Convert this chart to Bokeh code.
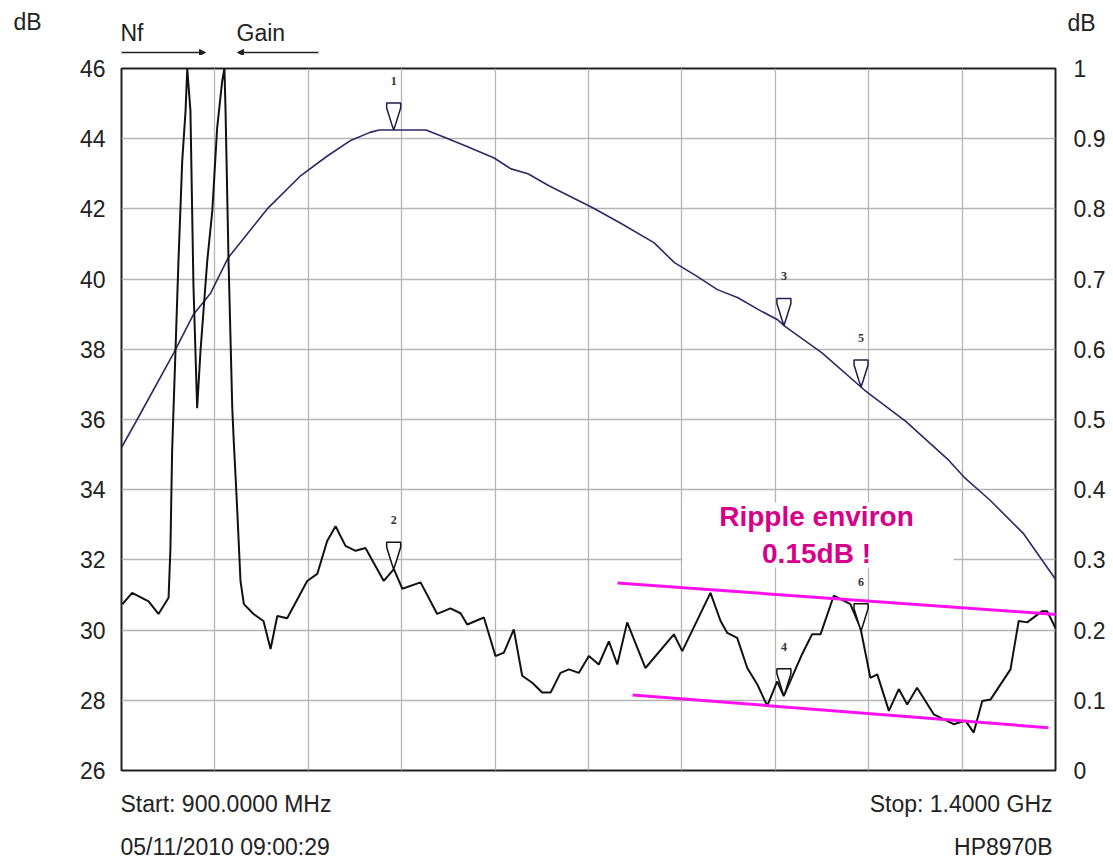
import numpy as np
from bokeh.plotting import figure
from bokeh.layouts import column
from bokeh.models import Range1d, LinearAxis, FixedTicker, Label, Arrow, NormalHead, BoxAnnotation
from bokeh.embed import file_html
from bokeh.resources import INLINE
from bokeh.core.properties import value

# ---------------- data ----------------
freq_start_mhz = 900
freq_stop_mhz = 1400
freq_grid_mhz = [950, 1000, 1050, 1100, 1150, 1200, 1250, 1300, 1350]

gain_ticks = [26, 28, 30, 32, 34, 36, 38, 40, 42, 44, 46]
gain_tick_labels = ["26", "28", "30", "32", "34", "36", "38", "40", "42", "44", "46"]
nf_ticks = [0, 0.1, 0.2, 0.3, 0.4, 0.5, 0.6, 0.7, 0.8, 0.9, 1]
nf_tick_labels = ["0", "0.1", "0.2", "0.3", "0.4", "0.5", "0.6", "0.7", "0.8", "0.9", "1"]

# Gain trace (left axis, dB)
gain_freq = [900.0, 908.4, 928.0, 938.6, 947.7, 957.0, 978.0, 996.0, 1010.0, 1022.7,
             1033.0, 1038.0, 1063.0, 1072.5, 1084.0, 1099.5, 1108.5, 1117.6, 1128.8,
             1152.0, 1167.0, 1185.0, 1196.0, 1207.7, 1219.0, 1230.0, 1241.0, 1251.0,
             1255.0, 1275.0, 1297.7, 1320.0, 1342.8, 1351.0, 1365.0, 1383.0, 1400.0]
gain_db = [35.2, 36.0, 37.9, 39.0, 39.6, 40.6, 42.0, 42.95, 43.5, 43.95,
           44.18, 44.25, 44.25, 44.05, 43.8, 43.45, 43.14, 43.0, 42.66,
           42.04, 41.6, 41.04, 40.47, 40.09, 39.7, 39.47, 39.13, 38.85,
           38.66, 37.9, 36.84, 35.94, 34.84, 34.36, 33.7, 32.74, 31.45]

# Noise-figure trace (right axis, dB)
nf_freq = [900.5, 905.7, 914.5, 919.8, 925.2, 926.2, 927.1, 928.9, 930.5, 932.5,
           934.3, 935.2, 936.9, 938.5, 940.5, 942.3, 945.9, 948.6, 951.2, 953.9,
           955.1, 955.7, 957.3, 959.3, 960.1, 961.0, 961.9, 963.7, 965.5, 970.7,
           976.0, 979.8, 983.4, 988.7, 999.4, 1004.8, 1010.1, 1014.6, 1019.9, 1025.3,
           1030.6, 1040.4, 1045.8, 1050.3, 1060.1, 1069.0, 1076.1, 1081.5, 1085.1, 1094.0,
           1100.2, 1104.7, 1110.0, 1114.5, 1119.9, 1125.2, 1129.7, 1135.0, 1139.5, 1144.8,
           1150.2, 1155.5, 1160.9, 1165.4, 1170.7, 1180.5, 1195.7, 1200.2, 1215.3, 1220.7,
           1224.3, 1229.6, 1235.0, 1240.3, 1245.7, 1251.0, 1254.5, 1264.4, 1269.7, 1274.2,
           1281.3, 1290.2, 1295.6, 1300.9, 1304.6, 1310.8, 1316.1, 1320.6, 1325.9, 1334.8,
           1345.5, 1351.8, 1356.2, 1360.8, 1365.2, 1375.9, 1380.3, 1384.8, 1392.9, 1395.5,
           1400.0]
nf_db = [0.237, 0.253, 0.241, 0.223, 0.246, 0.317, 0.455, 0.598, 0.726, 0.868,
         0.940, 1.000, 0.940, 0.693, 0.516, 0.598, 0.726, 0.797, 0.915, 0.982,
         1.000, 0.940, 0.726, 0.516, 0.469, 0.422, 0.374, 0.270, 0.237, 0.223,
         0.213, 0.173, 0.220, 0.217, 0.270, 0.280, 0.327, 0.348, 0.320, 0.313,
         0.317, 0.270, 0.287, 0.259, 0.268, 0.223, 0.231, 0.224, 0.208, 0.218,
         0.163, 0.168, 0.201, 0.135, 0.125, 0.111, 0.111, 0.139, 0.144, 0.139,
         0.163, 0.151, 0.184, 0.151, 0.211, 0.146, 0.194, 0.170, 0.253, 0.213,
         0.196, 0.189, 0.146, 0.123, 0.092, 0.127, 0.106, 0.166, 0.194, 0.194,
         0.249, 0.237, 0.203, 0.132, 0.137, 0.085, 0.116, 0.094, 0.118, 0.080,
         0.066, 0.071, 0.054, 0.099, 0.101, 0.144, 0.213, 0.211, 0.227, 0.227,
         0.203]

# Markers
marker_freq = [1045.7, 1254.6, 1295.9]
gain_marker_ids = ["1", "3", "5"]
nf_marker_ids = ["2", "4", "6"]

# Ripple envelope lines (NF dB)
ripple_upper_freq = [1165.5, 1404.3]
ripple_upper_nf = [0.267, 0.2215]
ripple_lower_freq = [1173.6, 1396.2]
ripple_lower_nf = [0.1075, 0.061]

# Header / footer texts
header_left_unit = "dB"
header_right_unit = "dB"
header_nf = "Nf"
header_gain = "Gain"
footer_start = "Start: 900.0000 MHz"
footer_stop = "Stop: 1.4000 GHz"
footer_date = "05/11/2010 09:00:29"
footer_model = "HP8970B"

# ---------------- layout (page pixel positions) ----------------
W = 1113
HDR_H, FTR_H = 55, 75
BL, BT, BB = 121, 13, 13
FW, FH = 934, 702
BR = W - BL - FW
MAIN_H = BT + FH + BB
PAGE_L, PAGE_T = BL, HDR_H + BT
G0, G1 = 26, 46
FONT = "Liberation Sans"
TXT = "#222222"


def fx(page_x):
    return freq_start_mhz + (page_x - PAGE_L) * (freq_stop_mhz - freq_start_mhz) / FW


def gy(page_y):
    return G1 - (page_y - PAGE_T) * (G1 - G0) / FH


def blank(height):
    f = figure(width=W, height=height, output_backend="svg", toolbar_location=None,
               x_range=Range1d(0, W), y_range=Range1d(height, 0),
               x_axis_location=None, y_axis_location=None, min_border=0)
    f.frame_align = False
    f.grid.visible = False
    f.outline_line_color = None
    f.background_fill_color = "white"
    f.border_fill_color = "white"
    return f


def txt(f, x, y, text, align="left", size="23px"):
    f.text([x], [y], text=[text], text_align=align, text_baseline="middle",
           text_font=value(FONT), text_font_size=size, text_color=TXT)


# ---- header (page y 0..55) ----
hdr = blank(HDR_H)
txt(hdr, 13, 21, header_left_unit)
txt(hdr, 1067, 22, header_right_unit)
txt(hdr, 120, 32, header_nf)
txt(hdr, 236, 32, header_gain)
hdr.add_layout(Arrow(end=NormalHead(size=6, fill_color="#222222", line_color="#222222"),
                     x_start=121, y_start=52, x_end=205, y_end=52,
                     line_color="#222222", line_width=1.4))
hdr.add_layout(Arrow(end=NormalHead(size=6, fill_color="#222222", line_color="#222222"),
                     x_start=318, y_start=52, x_end=237, y_end=52,
                     line_color="#222222", line_width=1.4))

# ---- main plot ----
p = figure(width=W, height=MAIN_H, output_backend="svg", toolbar_location=None,
           x_range=Range1d(freq_start_mhz, freq_stop_mhz), y_range=Range1d(G0, G1),
           min_border_left=BL, min_border_right=BR, min_border_top=BT, min_border_bottom=BB)
p.frame_align = False
p.extra_y_ranges = {"nf": Range1d(0, 1)}
p.background_fill_color = "white"
p.border_fill_color = "white"
p.outline_line_color = "#222222"
p.outline_line_width = 2

p.xaxis.visible = False
p.xaxis.ticker = FixedTicker(ticks=freq_grid_mhz)
p.xgrid.ticker = FixedTicker(ticks=freq_grid_mhz)
p.ygrid.ticker = FixedTicker(ticks=gain_ticks)
for g in (p.xgrid, p.ygrid):
    g.grid_line_color = "#b4b4b4"
    g.grid_line_width = 1.3

ya = p.yaxis[0]
ya.ticker = FixedTicker(ticks=gain_ticks)
ya.major_label_overrides = {t: l for t, l in zip(gain_ticks, gain_tick_labels)}
ya.major_label_standoff = 16

ra = LinearAxis(y_range_name="nf", ticker=FixedTicker(ticks=nf_ticks))
ra.major_label_overrides = {t: l for t, l in zip(nf_ticks, nf_tick_labels)}
ra.major_label_standoff = 18
p.add_layout(ra, "right")

for ax in (ya, ra):
    ax.axis_line_color = None
    ax.major_tick_line_color = None
    ax.minor_tick_line_color = None
    ax.major_tick_out = 0
    ax.major_tick_in = 0
    ax.major_label_text_font = FONT
    ax.major_label_text_font_size = "23px"
    ax.major_label_text_color = TXT

# ripple text background box
p.add_layout(BoxAnnotation(left=fx(682), right=fx(953), top=gy(502), bottom=gy(567),
                           fill_color="white", fill_alpha=1.0, line_color=None))

# traces
p.line(gain_freq, gain_db, line_color="#2a2a66", line_width=1.6)
p.line(nf_freq, nf_db, y_range_name="nf", line_color="#111111", line_width=2)

# ripple envelope
p.line(ripple_upper_freq, ripple_upper_nf, y_range_name="nf", line_color="#ff10f0", line_width=3)
p.line(ripple_lower_freq, ripple_lower_nf, y_range_name="nf", line_color="#ff10f0", line_width=3)

# markers (funnel shapes with tip on the trace)
off_x = [-7, 7, 7, 2, 0, -2, -7]
off_y = [27, 27, 22, 6, 0, 6, 22]  # pixels above the tip
mx_scale = (freq_stop_mhz - freq_start_mhz) / FW
gain_vals = np.interp(marker_freq, gain_freq, gain_db)
nf_vals = np.interp(marker_freq, nf_freq, nf_db)
g_xs, g_ys, n_xs, n_ys = [], [], [], []
for f, gv, nv in zip(marker_freq, gain_vals, nf_vals):
    g_xs.append([f + o * mx_scale for o in off_x])
    g_ys.append([gv + o * (G1 - G0) / FH for o in off_y])
    n_xs.append([f + o * mx_scale for o in off_x])
    n_ys.append([nv + o * 1.0 / FH for o in off_y])
p.patches(g_xs, g_ys, fill_color="white", line_color="#1e1e4a", line_width=1.5)
p.patches(n_xs, n_ys, y_range_name="nf", fill_color="white", line_color="#111111", line_width=1.5)
p.text(marker_freq, [v + 49 * (G1 - G0) / FH for v in gain_vals], text=gain_marker_ids,
       text_align="center", text_baseline="middle", text_font=value("Liberation Serif"),
       text_font_size="12px", text_font_style="bold", text_color="#333333")
p.text(marker_freq, [v + 49 * 1.0 / FH for v in nf_vals], text=nf_marker_ids,
       y_range_name="nf", text_align="center", text_baseline="middle",
       text_font=value("Liberation Serif"), text_font_size="12px",
       text_font_style="bold", text_color="#333333")

# ripple annotation text
for yy, t in ((516, "Ripple environ"), (553, "0.15dB !")):
    p.add_layout(Label(x=fx(816), y=gy(yy), text=t, text_align="center", text_baseline="middle",
                       text_font=FONT, text_font_size="28px", text_color="#d6008a",
                       text_font_style="bold"))

# ---- footer (page y 783..858) ----
FTR_T = HDR_H + MAIN_H
ftr = blank(FTR_H)
txt(ftr, 120, 803 - FTR_T, footer_start)
txt(ftr, 120, 846 - FTR_T, footer_date)
txt(ftr, 1052, 803 - FTR_T, footer_stop, align="right")
txt(ftr, 1052, 846 - FTR_T, footer_model, align="right")

layout = column(hdr, p, ftr, spacing=0)
open("out.html", "w").write(file_html(layout, INLINE))
